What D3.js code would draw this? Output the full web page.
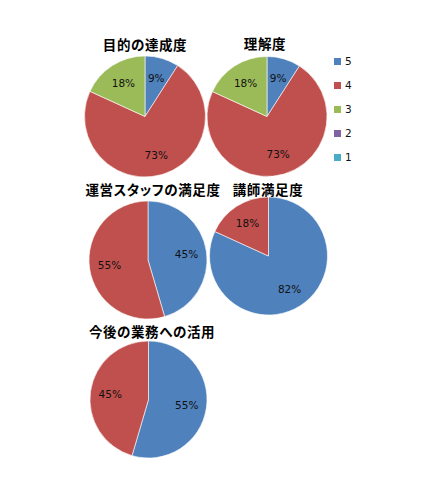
<!DOCTYPE html>
<html>
<head>
<meta charset="utf-8">
<script src="https://cdn.jsdelivr.net/npm/d3@7"></script>
<style>
  body { margin: 0; background: #fff; }
</style>
</head>
<body>
<svg id="chart"></svg>
<script>
// answer categories (5 = best) and the counts per question
const categories = ["5", "4", "3", "2", "1"];
const titles = ["目的の達成度", "理解度", "運営スタッフの満足度", "講師満足度", "今後の業務への活用"];
const tassei = [1, 8, 2, 0, 0];
const rikai = [1, 8, 2, 0, 0];
const staff = [5, 6, 0, 0, 0];
const koshi = [9, 2, 0, 0, 0];
const katsuyo = [6, 5, 0, 0, 0];
const seriesValues = [tassei, rikai, staff, koshi, katsuyo];

const colors = ["#4F81BD", "#C0504D", "#9BBB59", "#8064A2", "#4BACC6"];

const W = 431, H = 484;
// where each pie sits on the page
const layout = [
  { cx: 145, cy: 116.5, r: 60.5, tx: 145, ty: 50 },
  { cx: 267, cy: 116.5, r: 60, tx: 265, ty: 49 },
  { cx: 148, cy: 260, r: 59, tx: 153, ty: 195 },
  { cx: 268.5, cy: 256, r: 59, tx: 268, ty: 195 },
  { cx: 148.5, cy: 399.5, r: 58.5, tx: 152, ty: 337 }
];

const svg = d3.select("#chart").attr("width", W).attr("height", H);
const color = d3.scaleOrdinal().domain(categories).range(colors);
const pie = d3.pie().sort(null).value(d => d.value);

seriesValues.forEach((vals, i) => {
  const L = layout[i];
  const data = categories.map((c, j) => ({ cat: c, value: vals[j] }));
  const total = d3.sum(vals);
  const arcs = pie(data).filter(d => d.value > 0);
  const arc = d3.arc().innerRadius(0).outerRadius(L.r);
  const labelArc = d3.arc().innerRadius(L.r * 0.66).outerRadius(L.r * 0.66);

  const g = svg.append("g").attr("transform", `translate(${L.cx},${L.cy})`);
  g.selectAll("path")
    .data(arcs)
    .enter()
    .append("path")
    .attr("d", arc)
    .attr("fill", d => color(d.data.cat))
    .attr("stroke", "#fff")
    .attr("stroke-width", 0.6);

  g.selectAll("text")
    .data(arcs)
    .enter()
    .append("text")
    .attr("transform", d => `translate(${labelArc.centroid(d)})`)
    .attr("text-anchor", "middle")
    .attr("dy", "0.36em")
    .style("font-family", "'DejaVu Sans', sans-serif")
    .style("font-size", "10.5px")
    .style("fill", "#111")
    .text(d => Math.round(d.value / total * 100) + "%");

  svg.append("text")
    .attr("x", L.tx)
    .attr("y", L.ty)
    .attr("text-anchor", "middle")
    .style("font-family", "'Noto Sans CJK JP', sans-serif")
    .style("font-weight", "bold")
    .style("font-size", "13.5px")
    .style("font-feature-settings", "'palt'")
    .style("letter-spacing", "0.6px")
    .style("fill", "#000")
    .text(titles[i]);
});

// legend
const legend = svg.append("g").attr("transform", "translate(334,58)");
const ly = d3.scalePoint().domain(categories).range([0, 96]);
const item = legend.selectAll("g")
  .data(categories)
  .enter()
  .append("g")
  .attr("transform", d => `translate(0,${ly(d)})`);
item.append("rect")
  .attr("width", 7)
  .attr("height", 7)
  .attr("fill", d => color(d));
item.append("text")
  .attr("x", 11)
  .attr("y", 3.5)
  .attr("dy", "0.36em")
  .style("font-family", "'DejaVu Sans', sans-serif")
  .style("font-size", "10.5px")
  .style("fill", "#111")
  .text(d => d);
</script>
</body>
</html>
